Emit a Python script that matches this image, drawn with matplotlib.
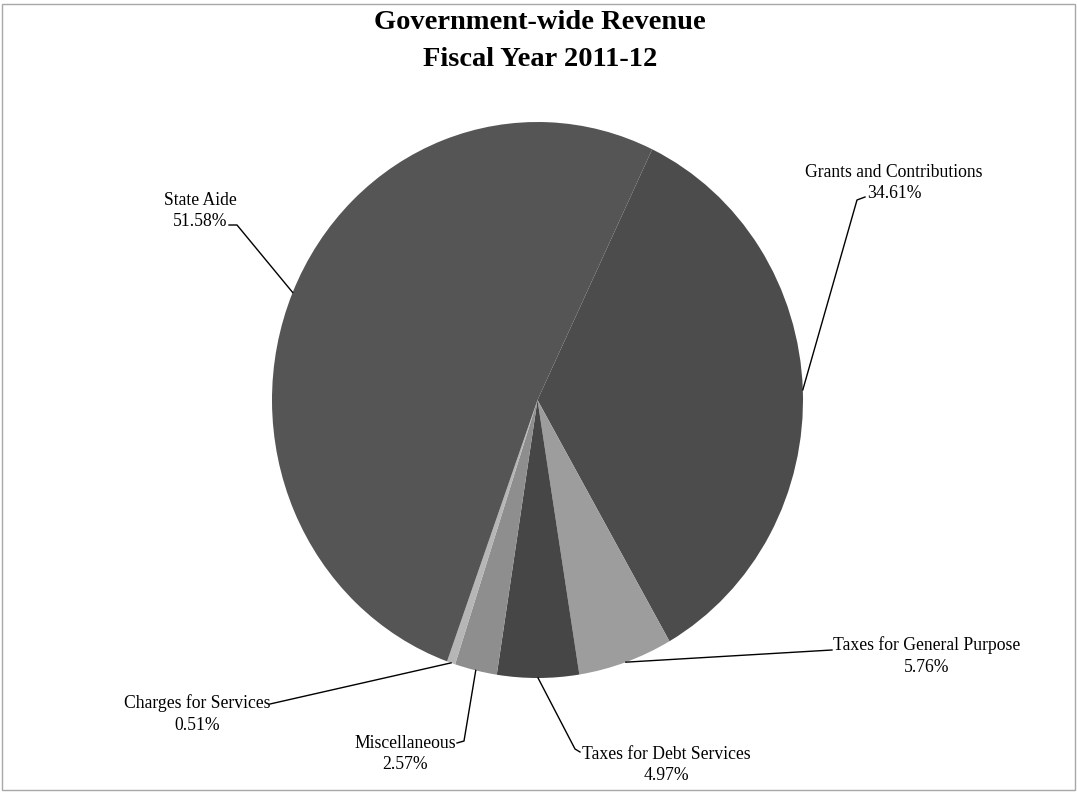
import numpy as np
import matplotlib
matplotlib.use("Agg")
import matplotlib.pyplot as plt
from matplotlib.patches import Rectangle

# revenue shares, in drawing order (clockwise)
categories = [
    "Grants and Contributions",
    "Taxes for General Purpose",
    "Taxes for Debt Services",
    "Miscellaneous",
    "Charges for Services",
    "State Aide",
]
shares = [34.61, 5.76, 4.97, 2.57, 0.51, 51.58]
slice_colors = ["#4c4c4c", "#9d9d9d", "#464646", "#8e8e8e", "#b6b6b6", "#555555"]

W, H = 1077, 792
CX, CY = 537.5, 400.0   # pie centre (px from top-left)
RX, RY = 265.5, 278.0   # pie radii (px)

plt.rcParams["font.family"] = ["Liberation Serif", "DejaVu Serif"]

fig = plt.figure(figsize=(W / 100, H / 100), dpi=100)
fig.patch.set_facecolor("white")
ax = fig.add_axes([(CX - RX) / W, (H - CY - RY) / H, 2 * RX / W, 2 * RY / H])

wedges, _ = ax.pie(
    shares,
    colors=slice_colors,
    startangle=64.4,
    counterclock=False,
    radius=1.0,
    wedgeprops=dict(linewidth=0),
)
ax.set_aspect("auto")
ax.set_xlim(-1, 1)
ax.set_ylim(-1, 1)
ax.axis("off")


def to_data(px, py):
    """pixel position (from top-left) -> pie data coords"""
    return (px - CX) / RX, (CY - py) / RY


# label centre and leader path (px), per category
label_pos = {
    "State Aide": ((200, 211), [(237, 225), (229, 225)]),
    "Grants and Contributions": ((894, 183), [(857, 200), (865, 197)]),
    "Taxes for General Purpose": ((927, 656), [(832, 650)]),
    "Taxes for Debt Services": ((666, 765), [(575, 749), (580, 752)]),
    "Miscellaneous": ((405, 754), [(464, 741), (457, 743)]),
    "Charges for Services": ((197, 714), [(270, 704)]),
}

for w, name, val in zip(wedges, categories, shares):
    mid = np.deg2rad((w.theta1 + w.theta2) / 2)
    ex, ey = np.cos(mid), np.sin(mid)
    (tx, ty), path = label_pos[name]
    xs = [ex] + [to_data(*p)[0] for p in path]
    ys = [ey] + [to_data(*p)[1] for p in path]
    ax.plot(xs, ys, color="black", linewidth=1.0, clip_on=False)
    lx, ly = to_data(tx, ty)
    ax.text(lx, ly, f"{name}\n{val:.2f}%", ha="center", va="center",
            multialignment="center", fontsize=12.7, linespacing=1.35,
            clip_on=False)

fig.text(540 / W, 1 - 41 / H, "Government-wide Revenue\nFiscal Year 2011-12",
         ha="center", va="center", fontsize=20.5, fontweight="bold",
         linespacing=1.6)

# thin frame round the chart area
fig.patches.append(Rectangle((2 / W, 2 / H), 1073 / W, 786 / H,
                             transform=fig.transFigure, fill=False,
                             edgecolor="#a8a8a8", linewidth=1.0))

fig.savefig("out.png", dpi=100)
